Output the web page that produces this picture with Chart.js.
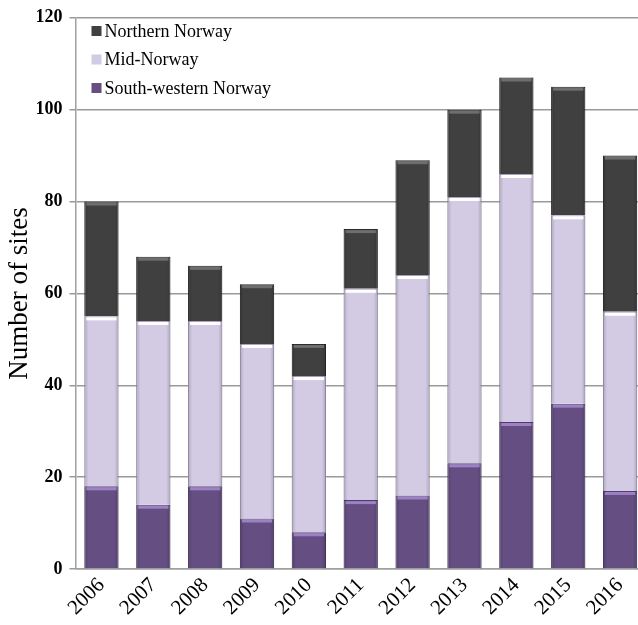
<!DOCTYPE html>
<html>
<head>
<meta charset="utf-8">
<script src="https://cdn.jsdelivr.net/npm/chart.js@4/dist/chart.umd.min.js"></script>
<style>
  html, body { margin: 0; padding: 0; background: #fff; overflow: hidden; }
  #wrap { width: 646px; height: 625px; }
</style>
</head>
<body>
<div id="wrap"><canvas id="myChart" width="646" height="625"></canvas></div>
<script>
const years = ["2006", "2007", "2008", "2009", "2010", "2011", "2012", "2013", "2014", "2015", "2016"];
const southWestern = [18, 14, 18, 11, 8, 15, 16, 23, 32, 36, 17];
const midNorway = [37, 40, 36, 38, 34, 46, 48, 58, 54, 41, 39];
const northern = [25, 14, 12, 13, 7, 13, 25, 19, 21, 28, 34];
const yTicks = [0, 20, 40, 60, 80, 100, 120];

// top highlight band + edge shading, like the reference's bevelled bars
const bevel = {
    id: "bevel",
    afterDatasetsDraw(chart) {
        const ctx = chart.ctx;
        const tops = ["#9c82c4", "#ffffff", "#6e6e6e"];
        chart.data.datasets.forEach((ds, di) => {
            chart.getDatasetMeta(di).data.forEach(bar => {
                let left = bar.x - bar.width / 2;
                let g = ctx.createLinearGradient(left, 0, left + bar.width, 0);
                g.addColorStop(0, "rgba(0,0,0,0.18)");
                g.addColorStop(0.12, "rgba(0,0,0,0)");
                g.addColorStop(0.88, "rgba(0,0,0,0)");
                g.addColorStop(1, "rgba(0,0,0,0.18)");
                ctx.save();
                ctx.fillStyle = g;
                ctx.fillRect(left, bar.y, bar.width, bar.base - bar.y);
                ctx.fillStyle = tops[di];
                ctx.fillRect(left + 2, bar.y + 1, bar.width - 4, 3);
                ctx.restore();
            });
        });
    }
};

const insideLegend = {
    id: "insideLegend",
    afterDraw(chart) {
        const ctx = chart.ctx;
        const x = chart.chartArea.left + 16;
        let y = 31;
        ctx.save();
        ctx.font = "18px 'Liberation Serif'";
        ctx.textBaseline = "middle";
        for (let i = chart.data.datasets.length - 1; i >= 0; i--) {
            let ds = chart.data.datasets[i];
            ctx.fillStyle = ds.backgroundColor;
            ctx.fillRect(x, y - 5, 10, 10);
            ctx.fillStyle = "#000";
            ctx.fillText(ds.label, x + 13, y + 1);
            y += 28.5;
        }
        ctx.restore();
    }
};

const ctx = document.getElementById("myChart");
new Chart(ctx, {
    type: "bar",
    data: {
        labels: years,
        datasets: [
            { label: "South-western Norway", data: southWestern, backgroundColor: "#644e82", borderColor: "#4e3b68" },
            { label: "Mid-Norway", data: midNorway, backgroundColor: "#d3cae4", borderColor: "#a79cba" },
            { label: "Northern Norway", data: northern, backgroundColor: "#404040", borderColor: "#2a2a2a" }
        ]
    },
    options: {
        responsive: false,
        animation: false,
        layout: { padding: { top: 8, right: 0, left: 0, bottom: 0 } },
        datasets: { bar: { categoryPercentage: 0.66, barPercentage: 1, borderWidth: 1 } },
        plugins: { legend: { display: false }, tooltip: { enabled: false } },
        scales: {
            x: {
                stacked: true,
                grid: { display: false, drawTicks: false },
                border: { color: "#a0a0a0", width: 1.5 },
                ticks: {
                    autoSkip: false, minRotation: 45, maxRotation: 45, padding: 4,
                    color: "#000", font: { family: "'Liberation Serif'", size: 21 }
                },
                afterFit(scale) { scale.height = 56; }
            },
            y: {
                stacked: true,
                min: 0, max: 120,
                afterBuildTicks(scale) { scale.ticks = yTicks.map(v => ({ value: v })); },
                grid: { color: "#9a9a9a", lineWidth: 1.5, tickLength: 6 },
                border: { color: "#a0a0a0", width: 1.5 },
                ticks: { color: "#000", padding: 7, font: { family: "'Liberation Serif'", size: 18, weight: "bold" } },
                title: {
                    display: true, text: "Number of sites", color: "#000",
                    font: { family: "'Liberation Serif'", size: 27 }, padding: { bottom: 2 }
                },
                afterFit(scale) { scale.width = 75.5; }
            }
        }
    },
    plugins: [bevel, insideLegend]
});
</script>
</body>
</html>
